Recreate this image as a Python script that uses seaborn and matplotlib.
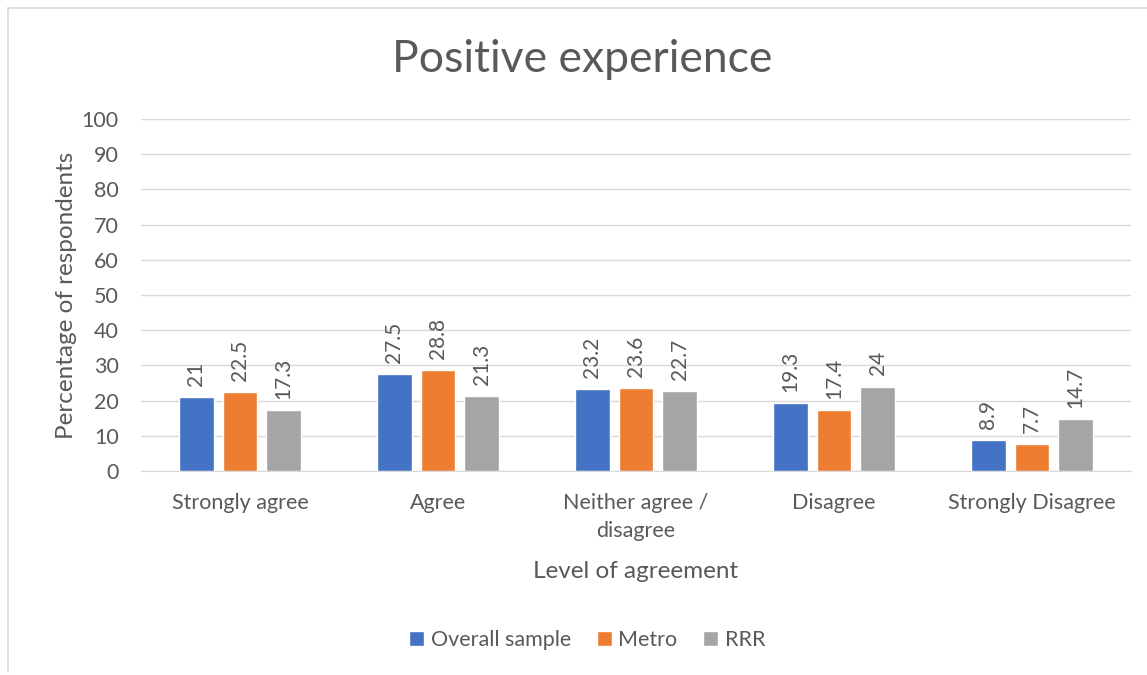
import numpy as np
import pandas as pd
import seaborn as sns
import matplotlib.pyplot as plt
from matplotlib.lines import Line2D

# data
levels = ['Strongly agree', 'Agree', 'Neither agree /\ndisagree', 'Disagree', 'Strongly Disagree']
groups = ['Overall sample', 'Metro', 'RRR']
overall = [21, 27.5, 23.2, 19.3, 8.9]
metro = [22.5, 28.8, 23.6, 17.4, 7.7]
rrr = [17.3, 21.3, 22.7, 24, 14.7]

df = pd.DataFrame({
    'level': levels * 3,
    'group': [groups[0]] * 5 + [groups[1]] * 5 + [groups[2]] * 5,
    'pct': overall + metro + rrr,
})

sns.set_style('white')
plt.rcParams['font.family'] = ['Lato', 'DejaVu Sans']
grey = '#595959'

fig = plt.figure(figsize=(11.47, 6.75), dpi=100)
ax = fig.add_axes([0.1229, 0.3022, 0.8631, 0.5215])

sns.barplot(data=df, x='level', y='pct', hue='group', order=levels, hue_order=groups,
            palette=['#4472c4', '#ed7d31', '#a5a5a5'], width=0.66, gap=0.2,
            saturation=1, ax=ax)

for c in ax.containers:
    ax.bar_label(c, fmt='%g', rotation=90, padding=8, fontsize=15, color=grey)

ax.set_ylim(0, 100)
ax.set_yticks(range(0, 101, 10))
ax.set_xlim(-0.5, 4.5)
ax.yaxis.grid(True, color='#d9d9d9', lw=1)
ax.set_axisbelow(True)
for s in ['top', 'right', 'left']:
    ax.spines[s].set_visible(False)
ax.spines['bottom'].set_color('#d9d9d9')
ax.tick_params(axis='both', length=0, labelsize=15.5, labelcolor=grey)
ax.tick_params(axis='x', pad=16)
ax.tick_params(axis='y', pad=16)
for t in ax.get_xticklabels():
    t.set_linespacing(1.5)
ax.set_xlabel('Level of agreement', fontsize=17.5, color=grey, labelpad=14)
ax.set_ylabel('Percentage of respondents', fontsize=17.5, color=grey, labelpad=3)

sns.move_legend(ax, 'center', bbox_to_anchor=(0.512, 0.052), bbox_transform=fig.transFigure,
                ncol=3, frameon=False, title=None, fontsize=15.5, handlelength=0.7,
                handleheight=0.7, handletextpad=0.3, columnspacing=1.2)
for t in ax.get_legend().get_texts():
    t.set_color(grey)

fig.text(0.508, 0.912, 'Positive experience', ha='center', va='center', fontsize=32, color=grey)

# chart border
fig.add_artist(Line2D([8 / 1147, 8 / 1147], [0.005, 1 - 8 / 675], color='#d9d9d9', lw=1.2))
fig.add_artist(Line2D([8 / 1147, 1.0], [1 - 8 / 675, 1 - 8 / 675], color='#d9d9d9', lw=1.2))

plt.savefig('out.png', dpi=100)
